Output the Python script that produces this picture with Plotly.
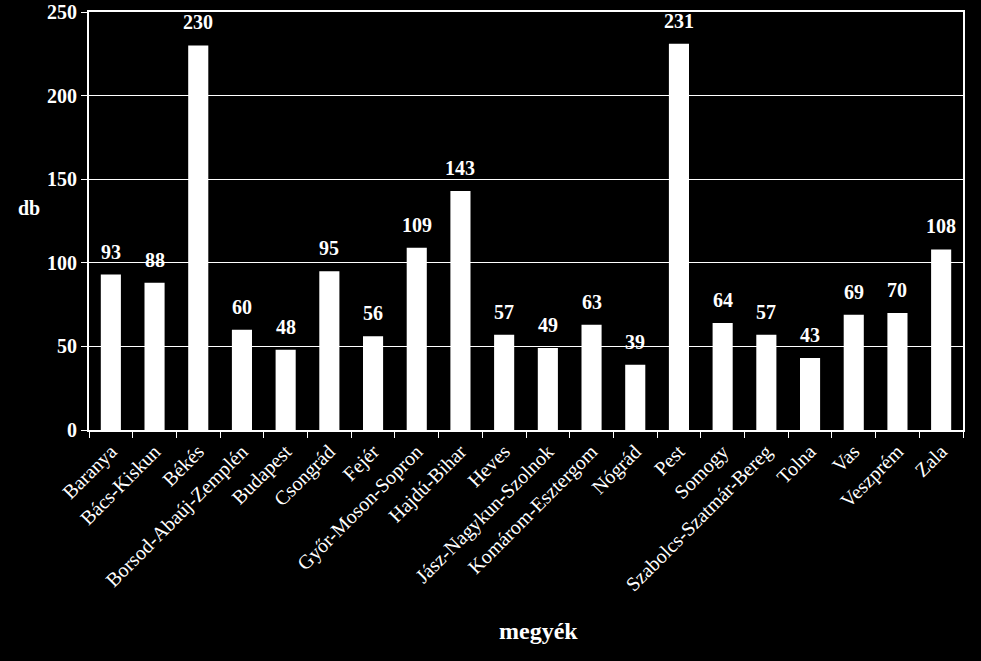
import plotly.graph_objects as go

categories = ["Baranya", "Bács-Kiskun", "Békés", "Borsod-Abaúj-Zemplén", "Budapest",
              "Csongrád", "Fejér", "Győr-Moson-Sopron", "Hajdú-Bihar", "Heves",
              "Jász-Nagykun-Szolnok", "Komárom-Esztergom", "Nógrád", "Pest", "Somogy",
              "Szabolcs-Szatmár-Bereg", "Tolna", "Vas", "Veszprém", "Zala"]
values = [93, 88, 230, 60, 48, 95, 56, 109, 143, 57, 49, 63, 39, 231, 64, 57, 43, 69, 70, 108]
y_ticks = [0, 50, 100, 150, 200, 250]

FONT = "Liberation Serif, Times New Roman, serif"

fig = go.Figure(go.Bar(
    x=categories, y=values,
    marker=dict(color="white", line=dict(width=0)),
    cliponaxis=False,
))

annotations = [
    dict(x=c, y=v, xref="x", yref="y", text="<b>%d</b>" % v, showarrow=False,
         yanchor="bottom", yshift=10,
         font=dict(family=FONT, size=20, color="white"))
    for c, v in zip(categories, values)
]
annotations += [
    dict(text="<b>db</b>", xref="paper", yref="paper",
         x=(29 - 89) / 874, y=(430 - 208) / 418, showarrow=False,
         xanchor="center", yanchor="middle",
         font=dict(family=FONT, size=20, color="white")),
    dict(text="<b>megyék</b>", xref="paper", yref="paper",
         x=(538 - 89) / 874, y=(430 - 631) / 418, showarrow=False,
         xanchor="center", yanchor="middle",
         font=dict(family=FONT, size=24, color="white")),
]

fig.update_layout(
    width=981, height=661,
    margin=dict(l=89, r=18, t=12, b=231, autoexpand=False),
    paper_bgcolor="black", plot_bgcolor="black",
    bargap=0.54,
    showlegend=False,
    font=dict(family=FONT, color="white"),
    xaxis=dict(
        tickangle=-45, tickfont=dict(family=FONT, size=20, color="white"),
        showline=True, linecolor="white", linewidth=2, mirror=True,
        ticks="outside", tickson="boundaries", ticklen=6, tickcolor="white",
        showgrid=False, automargin=False,
    ),
    yaxis=dict(
        range=[0, 250], tickvals=y_ticks,
        tickfont=dict(family=FONT, size=20, color="white", weight="bold"),
        showline=True, linecolor="white", linewidth=2, mirror=True,
        ticks="outside", ticklen=6, tickcolor="white",
        showgrid=True, gridcolor="white", gridwidth=1,
        zeroline=False, automargin=False,
    ),
    annotations=annotations,
)

fig.write_html("out.html")
